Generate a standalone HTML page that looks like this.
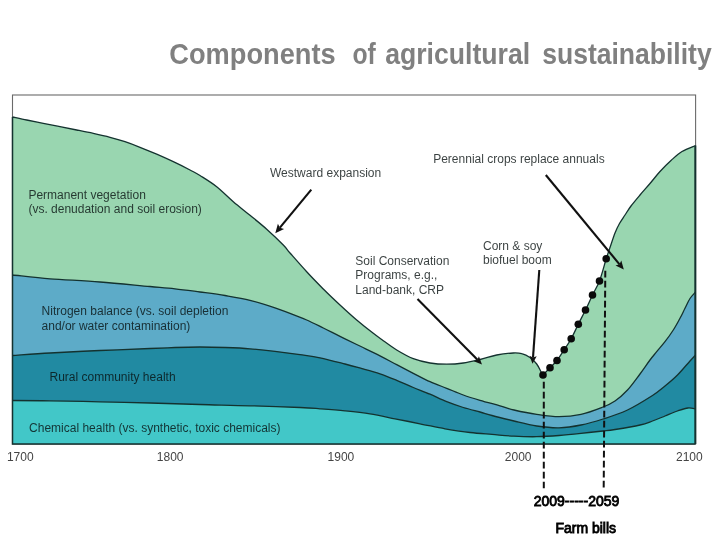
<!DOCTYPE html>
<html><head><meta charset="utf-8"><title>Components of agricultural sustainability</title>
<style>
html,body{margin:0;padding:0;background:#fff;}
body{width:720px;height:540px;position:relative;overflow:hidden;font-family:"Liberation Sans",Arial,sans-serif;}
.t{position:absolute;white-space:nowrap;font-size:12px;line-height:14.5px;color:rgba(8,16,16,0.8);}
.ax{position:absolute;white-space:nowrap;font-size:12px;line-height:14px;color:#444;}
.b{position:absolute;white-space:nowrap;font-size:14px;line-height:16px;color:#000;-webkit-text-stroke:0.85px #000;}
</style></head><body>
<svg width="720" height="540" viewBox="0 0 720 540" style="position:absolute;left:0;top:0">
<rect x="12.5" y="95.0" width="683.1" height="349.0" fill="#fff" stroke="#6a6a6a" stroke-width="1.1"/>
<path d="M12.5 117.0 C14.9 117.5 21.6 119.0 26.7 120.0 C31.8 121.0 37.8 122.2 43.3 123.3 C48.8 124.4 54.4 125.6 60.0 126.7 C65.6 127.8 71.2 128.9 76.7 130.0 C82.2 131.1 87.8 132.2 93.3 133.4 C98.8 134.6 104.7 135.9 110.0 137.3 C115.3 138.7 120.0 140.0 125.0 141.7 C130.0 143.4 134.7 145.2 140.0 147.3 C145.3 149.4 151.1 151.8 156.7 154.2 C162.2 156.6 167.8 159.1 173.3 161.7 C178.9 164.3 185.6 167.7 190.0 170.0 C194.4 172.3 195.6 172.7 200.0 175.5 C204.4 178.3 211.1 182.3 216.7 186.7 C222.2 191.1 227.8 196.9 233.3 201.7 C238.9 206.5 244.4 210.7 250.0 215.3 C255.6 219.9 261.1 224.2 266.7 229.2 C272.2 234.1 279.4 241.0 283.3 245.0 C287.2 249.0 286.1 248.6 290.0 253.0 C293.9 257.4 301.1 265.7 306.7 271.7 C312.2 277.7 317.8 283.4 323.3 289.0 C328.9 294.6 334.4 299.8 340.0 305.0 C345.6 310.2 351.1 315.3 356.7 320.0 C362.2 324.7 369.1 330.1 373.3 333.3 C377.5 336.6 377.8 336.7 381.7 339.5 C385.6 342.3 391.4 346.8 396.7 350.0 C402.0 353.2 407.8 356.5 413.3 358.7 C418.9 360.9 424.4 362.1 430.0 363.0 C435.6 363.9 441.1 364.2 446.7 364.2 C452.2 364.2 457.8 363.8 463.3 363.0 C468.9 362.2 474.4 360.8 480.0 359.5 C485.6 358.2 491.1 356.1 496.7 355.0 C502.2 353.9 509.1 353.2 513.3 353.0 C517.5 352.8 518.9 352.9 521.7 353.7 C524.5 354.4 527.5 355.8 530.0 357.5 C532.5 359.2 534.9 361.6 536.7 364.0 C538.5 366.4 540.0 369.9 541.0 371.7 C542.0 373.5 542.7 374.4 543.0 375.0 C544.2 373.8 547.7 370.2 550.0 367.8 C552.3 365.4 554.6 363.5 557.0 360.5 C559.4 357.5 561.8 353.3 564.2 349.7 C566.6 346.1 568.9 342.9 571.2 338.7 C573.6 334.4 575.9 329.0 578.3 324.2 C580.7 319.4 583.1 314.9 585.5 310.0 C587.9 305.1 590.2 299.8 592.5 295.0 C594.8 290.2 597.2 287.0 599.5 281.0 C601.8 275.0 604.5 264.3 606.2 258.8 C608.0 253.2 608.5 251.8 610.0 247.5 C611.5 243.2 613.4 237.0 615.0 233.0 C616.6 229.0 617.8 226.5 619.5 223.5 C621.2 220.5 623.1 217.9 625.0 215.0 C626.9 212.1 628.5 209.3 631.0 206.0 C633.5 202.7 636.8 198.8 640.0 195.0 C643.2 191.2 646.7 187.4 650.0 183.5 C653.3 179.6 656.5 175.3 660.0 171.5 C663.5 167.7 667.3 163.8 671.0 160.5 C674.7 157.2 677.9 154.0 682.0 151.5 C686.1 149.0 693.3 146.5 695.6 145.5 L695.6 444.0 L12.5 444.0 Z" fill="#99d6b0"/>
<path d="M12.5 275.0 C18.8 275.6 35.4 277.6 50.0 278.8 C64.6 279.9 83.3 280.7 100.0 282.0 C116.7 283.3 137.5 285.4 150.0 286.5 C162.5 287.6 166.7 287.8 175.0 288.8 C183.3 289.7 191.7 290.9 200.0 292.0 C208.3 293.1 216.7 294.1 225.0 295.5 C233.3 296.9 241.7 298.2 250.0 300.3 C258.3 302.4 268.3 305.6 275.0 307.8 C281.7 310.0 284.7 311.4 290.0 313.4 C295.3 315.4 301.1 317.6 306.7 320.0 C312.2 322.4 317.8 325.3 323.3 328.0 C328.9 330.7 334.4 333.6 340.0 336.3 C345.6 339.1 350.0 341.2 356.7 344.5 C363.4 347.8 373.3 352.4 380.0 355.8 C386.7 359.2 391.1 361.8 396.7 364.7 C402.2 367.6 407.8 370.5 413.3 373.3 C418.9 376.1 424.4 379.2 430.0 381.7 C435.6 384.2 441.1 386.1 446.7 388.3 C452.2 390.5 457.8 393.0 463.3 395.0 C468.9 397.0 473.9 398.5 480.0 400.3 C486.1 402.1 494.3 404.2 500.0 405.8 C505.7 407.4 507.9 408.6 514.0 410.0 C520.1 411.4 529.2 413.3 536.7 414.4 C544.2 415.5 551.6 416.7 559.0 416.7 C566.4 416.7 573.7 416.0 581.0 414.4 C588.3 412.8 597.3 409.2 603.0 407.0 C608.7 404.8 610.9 403.8 615.0 401.0 C619.1 398.2 623.3 394.5 627.5 390.0 C631.7 385.5 636.2 379.0 640.0 374.0 C643.8 369.0 647.2 363.7 650.0 360.0 C652.8 356.3 654.2 354.8 656.7 351.7 C659.2 348.6 662.2 345.3 665.0 341.7 C667.8 338.1 670.8 333.9 673.3 330.0 C675.8 326.1 678.0 321.9 680.0 318.3 C682.0 314.7 683.3 311.6 685.0 308.3 C686.7 305.0 688.2 301.2 690.0 298.5 C691.8 295.8 694.7 293.1 695.6 292.0 L695.6 444.0 L12.5 444.0 Z" fill="#5dabc8"/>
<path d="M12.5 355.5 C18.8 355.1 35.4 353.8 50.0 353.0 C64.6 352.2 83.3 351.2 100.0 350.5 C116.7 349.8 137.5 349.0 150.0 348.5 C162.5 348.0 166.7 347.8 175.0 347.5 C183.3 347.2 191.7 347.0 200.0 347.0 C208.3 347.0 216.7 347.2 225.0 347.5 C233.3 347.8 241.7 348.1 250.0 348.8 C258.3 349.4 266.7 350.3 275.0 351.3 C283.3 352.3 292.5 353.5 300.0 354.6 C307.5 355.7 312.5 356.2 320.0 357.8 C327.5 359.4 338.0 362.2 345.0 364.0 C352.0 365.8 356.2 367.0 362.0 368.6 C367.8 370.2 374.2 371.9 380.0 373.8 C385.8 375.8 391.1 378.0 396.7 380.3 C402.2 382.6 407.8 385.2 413.3 387.5 C418.9 389.8 424.4 391.8 430.0 394.2 C435.6 396.6 441.1 399.5 446.7 401.7 C452.2 403.9 457.8 405.8 463.3 407.5 C468.9 409.2 475.2 410.7 480.0 412.0 C484.8 413.3 486.3 414.0 492.0 415.5 C497.7 417.0 506.6 419.2 514.0 421.0 C521.5 422.8 529.2 424.9 536.7 426.0 C544.2 427.1 551.6 428.0 559.0 427.8 C566.4 427.6 573.7 426.5 581.0 425.0 C588.3 423.5 595.2 421.5 603.0 419.0 C610.8 416.5 619.2 413.9 627.5 410.0 C635.8 406.1 646.2 399.5 652.5 395.5 C658.8 391.5 660.8 389.4 665.0 386.0 C669.2 382.6 673.3 379.2 677.5 375.0 C681.7 370.8 687.0 364.3 690.0 361.0 C693.0 357.7 694.7 356.0 695.6 355.0 L695.6 444.0 L12.5 444.0 Z" fill="#218aa2"/>
<path d="M12.5 400.5 C18.8 400.5 35.4 400.5 50.0 400.8 C64.6 401.0 83.3 401.4 100.0 401.8 C116.7 402.1 133.3 402.5 150.0 403.0 C166.7 403.5 183.3 404.0 200.0 404.5 C216.7 405.0 233.3 405.2 250.0 405.8 C266.7 406.2 288.3 407.0 300.0 407.5 C311.7 408.0 312.5 408.2 320.0 408.8 C327.5 409.3 336.7 409.9 345.0 410.8 C353.3 411.6 361.7 412.4 370.0 413.8 C378.3 415.1 386.7 417.1 395.0 418.8 C403.3 420.4 411.7 422.1 420.0 423.8 C428.3 425.4 436.7 427.3 445.0 428.8 C453.3 430.2 462.2 431.6 470.0 432.5 C477.8 433.4 484.7 433.8 492.0 434.4 C499.3 435.0 506.6 435.8 514.0 436.2 C521.5 436.6 529.2 436.8 536.7 436.7 C544.2 436.6 551.6 436.1 559.0 435.5 C566.4 434.9 573.7 434.1 581.0 433.3 C588.3 432.6 597.3 431.6 603.0 431.0 C608.7 430.4 608.8 430.5 615.0 429.5 C621.2 428.5 633.8 426.4 640.0 425.0 C646.2 423.6 648.3 422.5 652.5 421.0 C656.7 419.5 660.8 417.7 665.0 416.0 C669.2 414.3 673.7 412.3 677.5 411.0 C681.3 409.7 685.0 408.3 688.0 408.0 C691.0 407.7 694.3 408.8 695.6 409.0 L695.6 444.0 L12.5 444.0 Z" fill="#42c7c8"/>
<g fill="none" stroke="#14322f" stroke-width="1.3" stroke-linejoin="round">
<path d="M12.5 117.0 C14.9 117.5 21.6 119.0 26.7 120.0 C31.8 121.0 37.8 122.2 43.3 123.3 C48.8 124.4 54.4 125.6 60.0 126.7 C65.6 127.8 71.2 128.9 76.7 130.0 C82.2 131.1 87.8 132.2 93.3 133.4 C98.8 134.6 104.7 135.9 110.0 137.3 C115.3 138.7 120.0 140.0 125.0 141.7 C130.0 143.4 134.7 145.2 140.0 147.3 C145.3 149.4 151.1 151.8 156.7 154.2 C162.2 156.6 167.8 159.1 173.3 161.7 C178.9 164.3 185.6 167.7 190.0 170.0 C194.4 172.3 195.6 172.7 200.0 175.5 C204.4 178.3 211.1 182.3 216.7 186.7 C222.2 191.1 227.8 196.9 233.3 201.7 C238.9 206.5 244.4 210.7 250.0 215.3 C255.6 219.9 261.1 224.2 266.7 229.2 C272.2 234.1 279.4 241.0 283.3 245.0 C287.2 249.0 286.1 248.6 290.0 253.0 C293.9 257.4 301.1 265.7 306.7 271.7 C312.2 277.7 317.8 283.4 323.3 289.0 C328.9 294.6 334.4 299.8 340.0 305.0 C345.6 310.2 351.1 315.3 356.7 320.0 C362.2 324.7 369.1 330.1 373.3 333.3 C377.5 336.6 377.8 336.7 381.7 339.5 C385.6 342.3 391.4 346.8 396.7 350.0 C402.0 353.2 407.8 356.5 413.3 358.7 C418.9 360.9 424.4 362.1 430.0 363.0 C435.6 363.9 441.1 364.2 446.7 364.2 C452.2 364.2 457.8 363.8 463.3 363.0 C468.9 362.2 474.4 360.8 480.0 359.5 C485.6 358.2 491.1 356.1 496.7 355.0 C502.2 353.9 509.1 353.2 513.3 353.0 C517.5 352.8 518.9 352.9 521.7 353.7 C524.5 354.4 527.5 355.8 530.0 357.5 C532.5 359.2 534.9 361.6 536.7 364.0 C538.5 366.4 540.0 369.9 541.0 371.7 C542.0 373.5 542.7 374.4 543.0 375.0 C544.2 373.8 547.7 370.2 550.0 367.8 C552.3 365.4 554.6 363.5 557.0 360.5 C559.4 357.5 561.8 353.3 564.2 349.7 C566.6 346.1 568.9 342.9 571.2 338.7 C573.6 334.4 575.9 329.0 578.3 324.2 C580.7 319.4 583.1 314.9 585.5 310.0 C587.9 305.1 590.2 299.8 592.5 295.0 C594.8 290.2 597.2 287.0 599.5 281.0 C601.8 275.0 604.5 264.3 606.2 258.8 C608.0 253.2 608.5 251.8 610.0 247.5 C611.5 243.2 613.4 237.0 615.0 233.0 C616.6 229.0 617.8 226.5 619.5 223.5 C621.2 220.5 623.1 217.9 625.0 215.0 C626.9 212.1 628.5 209.3 631.0 206.0 C633.5 202.7 636.8 198.8 640.0 195.0 C643.2 191.2 646.7 187.4 650.0 183.5 C653.3 179.6 656.5 175.3 660.0 171.5 C663.5 167.7 667.3 163.8 671.0 160.5 C674.7 157.2 677.9 154.0 682.0 151.5 C686.1 149.0 693.3 146.5 695.6 145.5"/>
<path d="M12.5 275.0 C18.8 275.6 35.4 277.6 50.0 278.8 C64.6 279.9 83.3 280.7 100.0 282.0 C116.7 283.3 137.5 285.4 150.0 286.5 C162.5 287.6 166.7 287.8 175.0 288.8 C183.3 289.7 191.7 290.9 200.0 292.0 C208.3 293.1 216.7 294.1 225.0 295.5 C233.3 296.9 241.7 298.2 250.0 300.3 C258.3 302.4 268.3 305.6 275.0 307.8 C281.7 310.0 284.7 311.4 290.0 313.4 C295.3 315.4 301.1 317.6 306.7 320.0 C312.2 322.4 317.8 325.3 323.3 328.0 C328.9 330.7 334.4 333.6 340.0 336.3 C345.6 339.1 350.0 341.2 356.7 344.5 C363.4 347.8 373.3 352.4 380.0 355.8 C386.7 359.2 391.1 361.8 396.7 364.7 C402.2 367.6 407.8 370.5 413.3 373.3 C418.9 376.1 424.4 379.2 430.0 381.7 C435.6 384.2 441.1 386.1 446.7 388.3 C452.2 390.5 457.8 393.0 463.3 395.0 C468.9 397.0 473.9 398.5 480.0 400.3 C486.1 402.1 494.3 404.2 500.0 405.8 C505.7 407.4 507.9 408.6 514.0 410.0 C520.1 411.4 529.2 413.3 536.7 414.4 C544.2 415.5 551.6 416.7 559.0 416.7 C566.4 416.7 573.7 416.0 581.0 414.4 C588.3 412.8 597.3 409.2 603.0 407.0 C608.7 404.8 610.9 403.8 615.0 401.0 C619.1 398.2 623.3 394.5 627.5 390.0 C631.7 385.5 636.2 379.0 640.0 374.0 C643.8 369.0 647.2 363.7 650.0 360.0 C652.8 356.3 654.2 354.8 656.7 351.7 C659.2 348.6 662.2 345.3 665.0 341.7 C667.8 338.1 670.8 333.9 673.3 330.0 C675.8 326.1 678.0 321.9 680.0 318.3 C682.0 314.7 683.3 311.6 685.0 308.3 C686.7 305.0 688.2 301.2 690.0 298.5 C691.8 295.8 694.7 293.1 695.6 292.0"/>
<path d="M12.5 355.5 C18.8 355.1 35.4 353.8 50.0 353.0 C64.6 352.2 83.3 351.2 100.0 350.5 C116.7 349.8 137.5 349.0 150.0 348.5 C162.5 348.0 166.7 347.8 175.0 347.5 C183.3 347.2 191.7 347.0 200.0 347.0 C208.3 347.0 216.7 347.2 225.0 347.5 C233.3 347.8 241.7 348.1 250.0 348.8 C258.3 349.4 266.7 350.3 275.0 351.3 C283.3 352.3 292.5 353.5 300.0 354.6 C307.5 355.7 312.5 356.2 320.0 357.8 C327.5 359.4 338.0 362.2 345.0 364.0 C352.0 365.8 356.2 367.0 362.0 368.6 C367.8 370.2 374.2 371.9 380.0 373.8 C385.8 375.8 391.1 378.0 396.7 380.3 C402.2 382.6 407.8 385.2 413.3 387.5 C418.9 389.8 424.4 391.8 430.0 394.2 C435.6 396.6 441.1 399.5 446.7 401.7 C452.2 403.9 457.8 405.8 463.3 407.5 C468.9 409.2 475.2 410.7 480.0 412.0 C484.8 413.3 486.3 414.0 492.0 415.5 C497.7 417.0 506.6 419.2 514.0 421.0 C521.5 422.8 529.2 424.9 536.7 426.0 C544.2 427.1 551.6 428.0 559.0 427.8 C566.4 427.6 573.7 426.5 581.0 425.0 C588.3 423.5 595.2 421.5 603.0 419.0 C610.8 416.5 619.2 413.9 627.5 410.0 C635.8 406.1 646.2 399.5 652.5 395.5 C658.8 391.5 660.8 389.4 665.0 386.0 C669.2 382.6 673.3 379.2 677.5 375.0 C681.7 370.8 687.0 364.3 690.0 361.0 C693.0 357.7 694.7 356.0 695.6 355.0"/>
<path d="M12.5 400.5 C18.8 400.5 35.4 400.5 50.0 400.8 C64.6 401.0 83.3 401.4 100.0 401.8 C116.7 402.1 133.3 402.5 150.0 403.0 C166.7 403.5 183.3 404.0 200.0 404.5 C216.7 405.0 233.3 405.2 250.0 405.8 C266.7 406.2 288.3 407.0 300.0 407.5 C311.7 408.0 312.5 408.2 320.0 408.8 C327.5 409.3 336.7 409.9 345.0 410.8 C353.3 411.6 361.7 412.4 370.0 413.8 C378.3 415.1 386.7 417.1 395.0 418.8 C403.3 420.4 411.7 422.1 420.0 423.8 C428.3 425.4 436.7 427.3 445.0 428.8 C453.3 430.2 462.2 431.6 470.0 432.5 C477.8 433.4 484.7 433.8 492.0 434.4 C499.3 435.0 506.6 435.8 514.0 436.2 C521.5 436.6 529.2 436.8 536.7 436.7 C544.2 436.6 551.6 436.1 559.0 435.5 C566.4 434.9 573.7 434.1 581.0 433.3 C588.3 432.6 597.3 431.6 603.0 431.0 C608.7 430.4 608.8 430.5 615.0 429.5 C621.2 428.5 633.8 426.4 640.0 425.0 C646.2 423.6 648.3 422.5 652.5 421.0 C656.7 419.5 660.8 417.7 665.0 416.0 C669.2 414.3 673.7 412.3 677.5 411.0 C681.3 409.7 685.0 408.3 688.0 408.0 C691.0 407.7 694.3 408.8 695.6 409.0"/>
</g>
<path d="M12.5 117 V444.0 H695.6" fill="none" stroke="#14322f" stroke-width="1.5"/>
<path d="M695.3 145.5 V444.0" fill="none" stroke="#14322f" stroke-width="2"/>
<path d="M543.8 381.7 V488.2 M605.3 270.8 L603.7 487.6" fill="none" stroke="#111" stroke-width="2" stroke-dasharray="6.8 3.2"/>
<circle cx="543.0" cy="375.0" r="3.8" fill="#0a0a0a"/>
<circle cx="550.0" cy="367.8" r="3.8" fill="#0a0a0a"/>
<circle cx="557.0" cy="360.5" r="3.8" fill="#0a0a0a"/>
<circle cx="564.2" cy="349.7" r="3.8" fill="#0a0a0a"/>
<circle cx="571.2" cy="338.7" r="3.8" fill="#0a0a0a"/>
<circle cx="578.3" cy="324.2" r="3.8" fill="#0a0a0a"/>
<circle cx="585.5" cy="310.0" r="3.8" fill="#0a0a0a"/>
<circle cx="592.5" cy="295.0" r="3.8" fill="#0a0a0a"/>
<circle cx="599.5" cy="281.0" r="3.8" fill="#0a0a0a"/>
<circle cx="606.2" cy="258.8" r="3.8" fill="#0a0a0a"/>
<line x1="311.3" y1="189.7" x2="279.9" y2="227.7" stroke="#111" stroke-width="2.1"/>
<path d="M275.3 233.3 L277.9 223.8 L279.9 227.7 L284.1 228.9 Z" fill="#111"/>
<line x1="417.5" y1="299.0" x2="477.5" y2="359.8" stroke="#111" stroke-width="2.1"/>
<path d="M482.0 364.4 L473.8 361.2 L477.5 359.8 L478.9 356.2 Z" fill="#111"/>
<line x1="539.3" y1="270.0" x2="533.0" y2="357.6" stroke="#111" stroke-width="2.1"/>
<path d="M532.5 363.8 L529.5 355.8 L533.0 357.6 L536.7 356.3 Z" fill="#111"/>
<line x1="545.8" y1="175.0" x2="619.5" y2="264.3" stroke="#111" stroke-width="2.1"/>
<path d="M623.8 269.5 L615.5 265.4 L619.5 264.3 L621.3 260.6 Z" fill="#111"/>
</svg>
<svg width="720" height="540" viewBox="0 0 720 540" style="position:absolute;left:0;top:0">
<text y="63.5" font-family="'Liberation Sans',sans-serif" font-weight="bold" font-size="29" fill="#808080"><tspan x="169.3" textLength="166.3" lengthAdjust="spacingAndGlyphs">Components</tspan> <tspan x="352.5" textLength="23.3" lengthAdjust="spacingAndGlyphs">of</tspan> <tspan x="385.2" textLength="145" lengthAdjust="spacingAndGlyphs">agricultural</tspan> <tspan x="542.2" textLength="169.5" lengthAdjust="spacingAndGlyphs">sustainability</tspan></text>
</svg>
<div id="t1" class="t" style="left:28.4px;top:187.5px">Permanent vegetation<br>(vs. denudation and soil erosion)</div>
<div id="t2" class="t" style="left:270px;top:166px">Westward expansion</div>
<div id="t3" class="t" style="left:433.2px;top:152px">Perennial crops replace annuals</div>
<div id="t4" class="t" style="left:355.3px;top:253.8px">Soil Conservation<br>Programs, e.g.,<br>Land-bank, CRP</div>
<div id="t5" class="t" style="left:483px;top:238.8px">Corn &amp; soy<br>biofuel boom</div>
<div id="t6" class="t" style="left:41.6px;top:304px">Nitrogen balance (vs. soil depletion<br>and/or water contamination)</div>
<div id="t7" class="t" style="left:49.5px;top:370px">Rural community health</div>
<div id="t8" class="t" style="left:29.1px;top:421px">Chemical health (vs. synthetic, toxic chemicals)</div>
<div id="t9" class="ax" style="left:6.9px;top:450px">1700</div>
<div id="t10" class="ax" style="left:156.8px;top:450px">1800</div>
<div id="t11" class="ax" style="left:327.6px;top:450px">1900</div>
<div id="t12" class="ax" style="left:504.8px;top:450px">2000</div>
<div id="t13" class="ax" style="left:676px;top:450px">2100</div>
<div id="t14" class="b" style="left:533.7px;top:492.5px">2009-----2059</div>
<div id="t15" class="b" style="left:555.4px;top:520px">Farm bills</div>
</body></html>
